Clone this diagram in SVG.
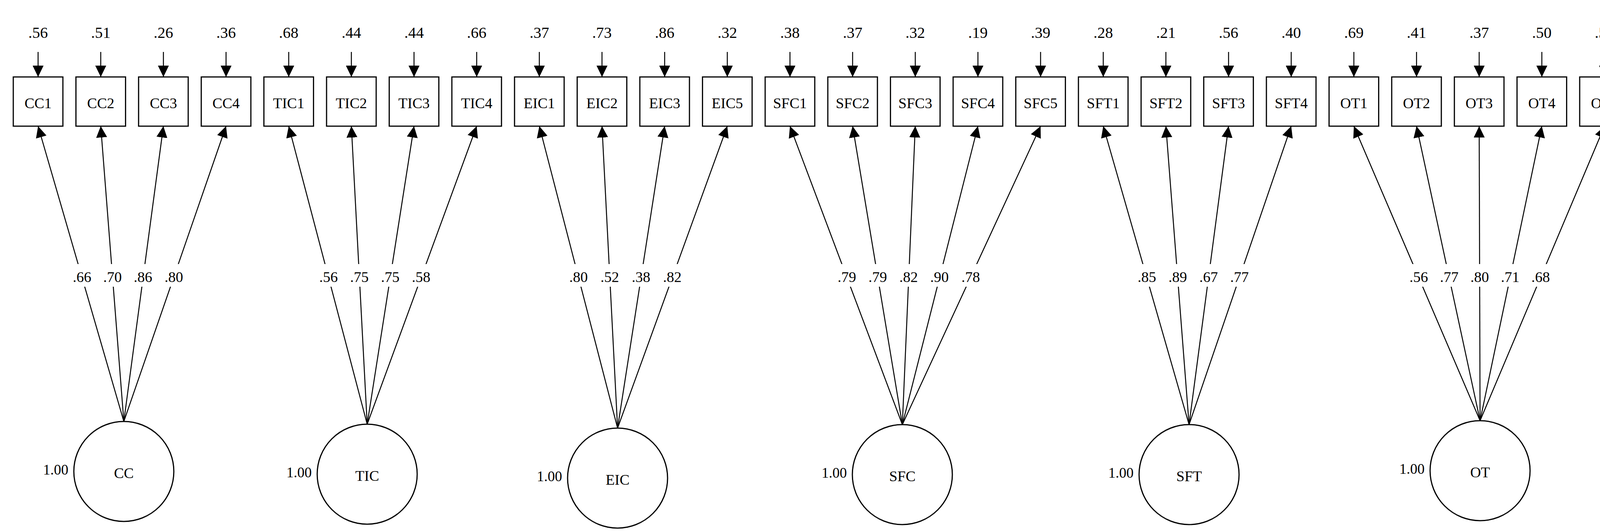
<svg xmlns="http://www.w3.org/2000/svg" width="4206" height="1362" viewBox="0 0 4206 1362">
<style>
.box{fill:#fff;stroke:#000;stroke-width:3}
.lat{fill:#fff;stroke:#000;stroke-width:3}
.ln{stroke:#000;stroke-width:2.5;fill:none;marker-end:url(#ah)}
.t{font-family:"Liberation Serif",serif;font-size:38px;fill:#000;text-anchor:middle}
.r{font-family:"Liberation Serif",serif;font-size:40px;fill:#000;text-anchor:middle}
.l{font-family:"Liberation Serif",serif;font-size:38px;fill:#000;text-anchor:middle}
.v{font-family:"Liberation Serif",serif;font-size:37px;fill:#000;text-anchor:end}
</style>
<defs>
<marker id="ah" markerUnits="userSpaceOnUse" viewBox="0 0 29 28" refX="29" refY="14" markerWidth="29" markerHeight="28" orient="auto"><path d="M0,0 L29,14 L0,28 z" fill="#000"/></marker>
<mask id="gap" maskUnits="userSpaceOnUse" x="0" y="0" width="4206" height="1362"><rect width="4206" height="1362" fill="#fff"/><rect x="0" y="676" width="4206" height="58" fill="#000"/></mask>
</defs>
<rect width="4206" height="1362" fill="#fff"/>
<g id="connectors">
<g id="residual-arrows">
<line class="ln" x1="97.5" y1="133" x2="97.5" y2="197"/><line class="ln" x1="257.9" y1="133" x2="257.9" y2="197"/><line class="ln" x1="418.3" y1="133" x2="418.3" y2="197"/><line class="ln" x1="578.7" y1="133" x2="578.7" y2="197"/>
<line class="ln" x1="739.1" y1="133" x2="739.1" y2="197"/><line class="ln" x1="899.5" y1="133" x2="899.5" y2="197"/><line class="ln" x1="1059.9" y1="133" x2="1059.9" y2="197"/><line class="ln" x1="1220.3" y1="133" x2="1220.3" y2="197"/>
<line class="ln" x1="1380.7" y1="133" x2="1380.7" y2="197"/><line class="ln" x1="1541.1" y1="133" x2="1541.1" y2="197"/><line class="ln" x1="1701.5" y1="133" x2="1701.5" y2="197"/><line class="ln" x1="1861.9" y1="133" x2="1861.9" y2="197"/>
<line class="ln" x1="2022.3" y1="133" x2="2022.3" y2="197"/><line class="ln" x1="2182.7" y1="133" x2="2182.7" y2="197"/><line class="ln" x1="2343.1" y1="133" x2="2343.1" y2="197"/><line class="ln" x1="2503.5" y1="133" x2="2503.5" y2="197"/><line class="ln" x1="2663.9" y1="133" x2="2663.9" y2="197"/>
<line class="ln" x1="2824.3" y1="133" x2="2824.3" y2="197"/><line class="ln" x1="2984.7" y1="133" x2="2984.7" y2="197"/><line class="ln" x1="3145.1" y1="133" x2="3145.1" y2="197"/><line class="ln" x1="3305.5" y1="133" x2="3305.5" y2="197"/>
<line class="ln" x1="3465.9" y1="133" x2="3465.9" y2="197"/><line class="ln" x1="3626.3" y1="133" x2="3626.3" y2="197"/><line class="ln" x1="3786.7" y1="133" x2="3786.7" y2="197"/><line class="ln" x1="3947.1" y1="133" x2="3947.1" y2="197"/><line class="ln" x1="4107.5" y1="133" x2="4107.5" y2="197"/>
</g>
<g id="loadings" mask="url(#gap)">
<line class="ln" x1="317" y1="1079" x2="97.5" y2="323"/><line class="ln" x1="317" y1="1079" x2="257.9" y2="323"/><line class="ln" x1="317" y1="1079" x2="418.3" y2="323"/><line class="ln" x1="317" y1="1079" x2="578.7" y2="323"/>
<line class="ln" x1="940" y1="1086" x2="739.1" y2="323"/><line class="ln" x1="940" y1="1086" x2="899.5" y2="323"/><line class="ln" x1="940" y1="1086" x2="1059.9" y2="323"/><line class="ln" x1="940" y1="1086" x2="1220.3" y2="323"/>
<line class="ln" x1="1581" y1="1096" x2="1380.7" y2="323"/><line class="ln" x1="1581" y1="1096" x2="1541.1" y2="323"/><line class="ln" x1="1581" y1="1096" x2="1701.5" y2="323"/><line class="ln" x1="1581" y1="1096" x2="1861.9" y2="323"/>
<line class="ln" x1="2310" y1="1087" x2="2022.3" y2="323"/><line class="ln" x1="2310" y1="1087" x2="2182.7" y2="323"/><line class="ln" x1="2310" y1="1087" x2="2343.1" y2="323"/><line class="ln" x1="2310" y1="1087" x2="2503.5" y2="323"/><line class="ln" x1="2310" y1="1087" x2="2663.9" y2="323"/>
<line class="ln" x1="3044" y1="1087" x2="2824.3" y2="323"/><line class="ln" x1="3044" y1="1087" x2="2984.7" y2="323"/><line class="ln" x1="3044" y1="1087" x2="3145.1" y2="323"/><line class="ln" x1="3044" y1="1087" x2="3305.5" y2="323"/>
<line class="ln" x1="3789" y1="1077" x2="3465.9" y2="323"/><line class="ln" x1="3789" y1="1077" x2="3626.3" y2="323"/><line class="ln" x1="3789" y1="1077" x2="3786.7" y2="323"/><line class="ln" x1="3789" y1="1077" x2="3947.1" y2="323"/><line class="ln" x1="3789" y1="1077" x2="4107.5" y2="323"/>
</g>
<g id="loading-labels">
<text class="l" x="210" y="722">.66</text><text class="l" x="288" y="722">.70</text><text class="l" x="366" y="722">.86</text><text class="l" x="445" y="722">.80</text>
<text class="l" x="841" y="722">.56</text><text class="l" x="920" y="722">.75</text><text class="l" x="999" y="722">.75</text><text class="l" x="1078" y="722">.58</text>
<text class="l" x="1481" y="722">.80</text><text class="l" x="1561" y="722">.52</text><text class="l" x="1641" y="722">.38</text><text class="l" x="1721" y="722">.82</text>
<text class="l" x="2168" y="722">.79</text><text class="l" x="2247" y="722">.79</text><text class="l" x="2326" y="722">.82</text><text class="l" x="2405" y="722">.90</text><text class="l" x="2485" y="722">.78</text>
<text class="l" x="2936" y="722">.85</text><text class="l" x="3015" y="722">.89</text><text class="l" x="3094" y="722">.67</text><text class="l" x="3173" y="722">.77</text>
<text class="l" x="3632" y="722">.56</text><text class="l" x="3710" y="722">.77</text><text class="l" x="3788" y="722">.80</text><text class="l" x="3866" y="722">.71</text><text class="l" x="3944" y="722">.68</text>
</g>
</g>
<g id="CC1"><rect class="box" x="34" y="197" width="127" height="126"/><text class="t" x="97.5" y="277">CC1</text><text class="r" x="97.5" y="97">.56</text></g>
<g id="CC2"><rect class="box" x="194.4" y="197" width="127" height="126"/><text class="t" x="257.9" y="277">CC2</text><text class="r" x="257.9" y="97">.51</text></g>
<g id="CC3"><rect class="box" x="354.8" y="197" width="127" height="126"/><text class="t" x="418.3" y="277">CC3</text><text class="r" x="418.3" y="97">.26</text></g>
<g id="CC4"><rect class="box" x="515.2" y="197" width="127" height="126"/><text class="t" x="578.7" y="277">CC4</text><text class="r" x="578.7" y="97">.36</text></g>
<g id="TIC1"><rect class="box" x="675.6" y="197" width="127" height="126"/><text class="t" x="739.1" y="277">TIC1</text><text class="r" x="739.1" y="97">.68</text></g>
<g id="TIC2"><rect class="box" x="836" y="197" width="127" height="126"/><text class="t" x="899.5" y="277">TIC2</text><text class="r" x="899.5" y="97">.44</text></g>
<g id="TIC3"><rect class="box" x="996.4" y="197" width="127" height="126"/><text class="t" x="1059.9" y="277">TIC3</text><text class="r" x="1059.9" y="97">.44</text></g>
<g id="TIC4"><rect class="box" x="1156.8" y="197" width="127" height="126"/><text class="t" x="1220.3" y="277">TIC4</text><text class="r" x="1220.3" y="97">.66</text></g>
<g id="EIC1"><rect class="box" x="1317.2" y="197" width="127" height="126"/><text class="t" x="1380.7" y="277">EIC1</text><text class="r" x="1380.7" y="97">.37</text></g>
<g id="EIC2"><rect class="box" x="1477.6" y="197" width="127" height="126"/><text class="t" x="1541.1" y="277">EIC2</text><text class="r" x="1541.1" y="97">.73</text></g>
<g id="EIC3"><rect class="box" x="1638" y="197" width="127" height="126"/><text class="t" x="1701.5" y="277">EIC3</text><text class="r" x="1701.5" y="97">.86</text></g>
<g id="EIC5"><rect class="box" x="1798.4" y="197" width="127" height="126"/><text class="t" x="1861.9" y="277">EIC5</text><text class="r" x="1861.9" y="97">.32</text></g>
<g id="SFC1"><rect class="box" x="1958.8" y="197" width="127" height="126"/><text class="t" x="2022.3" y="277">SFC1</text><text class="r" x="2022.3" y="97">.38</text></g>
<g id="SFC2"><rect class="box" x="2119.2" y="197" width="127" height="126"/><text class="t" x="2182.7" y="277">SFC2</text><text class="r" x="2182.7" y="97">.37</text></g>
<g id="SFC3"><rect class="box" x="2279.6" y="197" width="127" height="126"/><text class="t" x="2343.1" y="277">SFC3</text><text class="r" x="2343.1" y="97">.32</text></g>
<g id="SFC4"><rect class="box" x="2440" y="197" width="127" height="126"/><text class="t" x="2503.5" y="277">SFC4</text><text class="r" x="2503.5" y="97">.19</text></g>
<g id="SFC5"><rect class="box" x="2600.4" y="197" width="127" height="126"/><text class="t" x="2663.9" y="277">SFC5</text><text class="r" x="2663.9" y="97">.39</text></g>
<g id="SFT1"><rect class="box" x="2760.8" y="197" width="127" height="126"/><text class="t" x="2824.3" y="277">SFT1</text><text class="r" x="2824.3" y="97">.28</text></g>
<g id="SFT2"><rect class="box" x="2921.2" y="197" width="127" height="126"/><text class="t" x="2984.7" y="277">SFT2</text><text class="r" x="2984.7" y="97">.21</text></g>
<g id="SFT3"><rect class="box" x="3081.6" y="197" width="127" height="126"/><text class="t" x="3145.1" y="277">SFT3</text><text class="r" x="3145.1" y="97">.56</text></g>
<g id="SFT4"><rect class="box" x="3242" y="197" width="127" height="126"/><text class="t" x="3305.5" y="277">SFT4</text><text class="r" x="3305.5" y="97">.40</text></g>
<g id="OT1"><rect class="box" x="3402.4" y="197" width="127" height="126"/><text class="t" x="3465.9" y="277">OT1</text><text class="r" x="3465.9" y="97">.69</text></g>
<g id="OT2"><rect class="box" x="3562.8" y="197" width="127" height="126"/><text class="t" x="3626.3" y="277">OT2</text><text class="r" x="3626.3" y="97">.41</text></g>
<g id="OT3"><rect class="box" x="3723.2" y="197" width="127" height="126"/><text class="t" x="3786.7" y="277">OT3</text><text class="r" x="3786.7" y="97">.37</text></g>
<g id="OT4"><rect class="box" x="3883.6" y="197" width="127" height="126"/><text class="t" x="3947.1" y="277">OT4</text><text class="r" x="3947.1" y="97">.50</text></g>
<g id="OT5"><rect class="box" x="4044" y="197" width="127" height="126"/><text class="t" x="4107.5" y="277">OT5</text><text class="r" x="4107.5" y="97">.54</text></g>
<g id="CC"><circle class="lat" cx="317" cy="1207" r="128"/><text class="t" x="317" y="1224">CC</text><text class="v" x="175" y="1215">1.00</text></g>
<g id="TIC"><circle class="lat" cx="940" cy="1214" r="128"/><text class="t" x="940" y="1231">TIC</text><text class="v" x="798" y="1222">1.00</text></g>
<g id="EIC"><circle class="lat" cx="1581" cy="1224" r="128"/><text class="t" x="1581" y="1241">EIC</text><text class="v" x="1439" y="1232">1.00</text></g>
<g id="SFC"><circle class="lat" cx="2310" cy="1215" r="128"/><text class="t" x="2310" y="1232">SFC</text><text class="v" x="2168" y="1223">1.00</text></g>
<g id="SFT"><circle class="lat" cx="3044" cy="1215" r="128"/><text class="t" x="3044" y="1232">SFT</text><text class="v" x="2902" y="1223">1.00</text></g>
<g id="OT"><circle class="lat" cx="3789" cy="1205" r="128"/><text class="t" x="3789" y="1222">OT</text><text class="v" x="3647" y="1213">1.00</text></g>
</svg>
